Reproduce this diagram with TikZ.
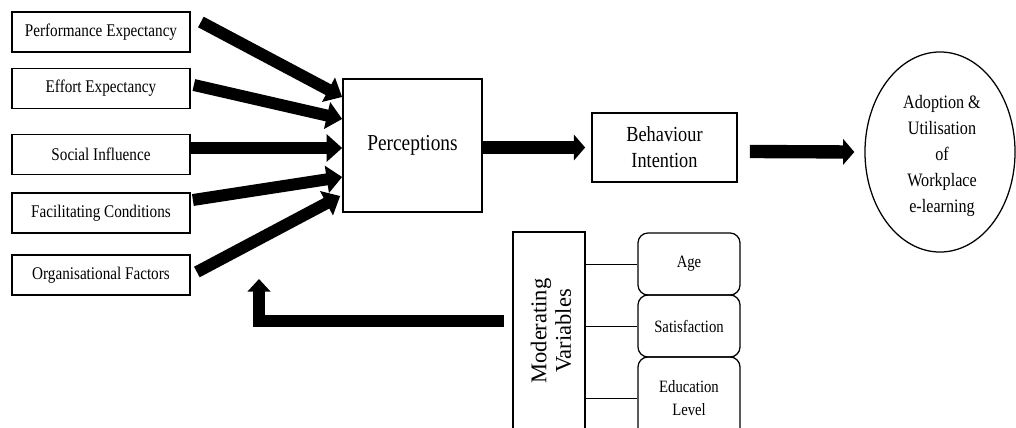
\documentclass[tikz,border=0pt]{standalone}
\usepackage{fontspec}
\setmainfont{Liberation Serif}[FakeStretch=0.85]
\newfontfamily\plainserif{Liberation Serif}
\usetikzlibrary{arrows.meta,calc,shapes.geometric}
\begin{document}
\begin{tikzpicture}[x=0.025cm,y=-0.025cm,
  leftbox/.style={draw,line width=1.2pt,minimum width=4.45cm,minimum height=1.0cm,inner sep=0pt,font=\fontsize{12.7}{15}\selectfont},
  mainbox/.style={draw,line width=1.2pt,inner sep=0pt,align=center},
  subbox/.style={draw,line width=0.9pt,rounded corners=0.25cm,minimum width=2.55cm,inner sep=0pt,align=center,font=\fontsize{12.3}{16.4}\selectfont},
  inarrow/.style={line width=8.5pt,-{Triangle[width=19pt,length=11pt]}},
  bigarrow/.style={line width=9.5pt,-{Triangle[width=18pt,length=8pt]}},
  fbarrow/.style={line width=9pt,line join=miter,-{Triangle[width=16pt,length=9pt]}},
  link/.style={line width=0.6pt}
]
\useasboundingbox (0,0) rectangle (1016,427);
\clip (0,0) rectangle (1016,427);

% left factor boxes
\node[leftbox] (pe) at (101,32) {Performance Expectancy};
\node[leftbox] (ee) at (101,88.5) {Effort Expectancy};
\node[leftbox] (si) at (101,154.5) {Social Influence};
\node[leftbox] (fc) at (101,213) {Facilitating Conditions};
\node[leftbox] (of) at (101,275) {Organisational Factors};

% main boxes
\node[mainbox,minimum width=3.475cm,minimum height=3.325cm,font=\fontsize{16.2}{18}\selectfont] (perc) at (412.5,145.5) {Perceptions};
\node[mainbox,minimum width=3.625cm,minimum height=1.725cm,font=\fontsize{15.3}{18.5}\selectfont] (bi) at (664.5,147.5) {Behaviour\\Intention};
\node[draw,ellipse,line width=0.9pt,minimum width=3.75cm,minimum height=5.0cm,inner sep=0pt] (adopt) at (940,152) {};
\node[align=center,font=\fontsize{13.5}{18.5}\selectfont] (adopttext) at (942,156) {Adoption \&\\Utilisation\\of\\Workplace\\e-learning};

% moderating variables
\node[mainbox,minimum width=1.8cm,minimum height=5.325cm] (mod) at (549,338.5) {};
\node[rotate=90,align=center,font=\plainserif\fontsize{16}{17.5}\selectfont] (modtext) at (551,331) {Moderating\\Variables};
\node[subbox,minimum height=1.55cm] (age) at (689,264) {Age};
\node[subbox,minimum height=1.55cm] (sat) at (689,326) {Satisfaction};
\node[subbox,minimum height=2.075cm] (edu) at (689,398.5) {Education\\Level};

\draw[link] (mod.east |- age.west) -- (age.west);
\draw[link] (mod.east |- sat.west) -- (sat.west);
\draw[link] (mod.east |- edu.west) -- (edu.west);

% input arrows
\draw[inarrow] ($(pe.east)+(10,-10)$) -- ($(perc.west)+(0,-48.5)$);
\draw[inarrow] ($(ee.east)+(3,-3.5)$) -- ($(perc.west)+(0,-26.5)$);
\draw[inarrow] ($(si.east)+(0,-6.5)$) -- ($(perc.west)+(0,2.5)$);
\draw[inarrow] ($(fc.east)+(2,-13)$) -- ($(perc.west)+(0,31.5)$);
\draw[inarrow] ($(of.east)+(6,-3)$) -- ($(perc.west)+(-2,50.5)$);

% main flow
\draw[bigarrow] (perc.east |- bi.west) -- ($(bi.west)+(-6,0)$);
\draw[bigarrow] ($(bi.east)+(12,4)$) -- ($(adopt.west)+(-10,0)$);

% feedback arrow
\coordinate (fbtip) at (259,279);
\draw[fbarrow] ($(mod.west)+(-8,-17.5)$) -| (fbtip);
\end{tikzpicture}
\end{document}
